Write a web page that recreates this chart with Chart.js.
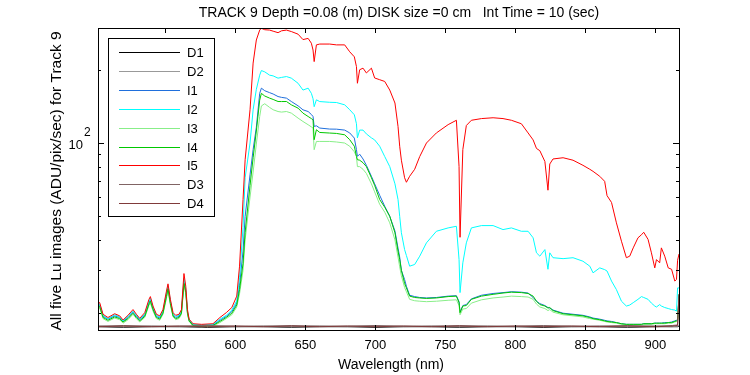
<!DOCTYPE html>
<html>
<head>
<meta charset="utf-8">
<script src="https://cdn.jsdelivr.net/npm/chart.js@4.4.1/dist/chart.umd.min.js"></script>
<style>
  html, body { margin: 0; padding: 0; background: #fff; }
  canvas { display: block; }
</style>
</head>
<body>
<canvas id="luChart" width="750" height="375"></canvas>
<script>
// wavelength grid (nm) shared by the five Lu image series
const wavelengths = [
  502, 503.1, 505.5, 509, 513.8, 517.4, 519.8, 523.3, 526.9, 529.3,
  531.7, 535.3, 538.3, 539.3, 541.2, 543.6, 546, 548.3, 550.8, 551.9,
  553.6, 555.5, 557.4, 559.8, 561.5, 563.3, 564.6, 565.8, 567, 569.8,
  576, 584, 589, 593.5,
  597.5, 601, 603, 605.5, 607, 610.5, 612.7, 615, 617.4, 618.6,
  621, 624.5, 627, 630.5, 633, 636.5, 640, 644.8, 648.3, 652,
  654.3, 655.5, 656.3, 657.9, 660.3, 667.4, 672.2, 678.1, 681.7, 685,
  686.5, 687.2, 688.8, 691.2, 693.6, 697.2, 699.5, 703.1, 706.7, 710.3,
  714, 716.2, 717.4, 718.6, 720.9, 722.2, 724.5, 728.1, 731.7, 736.5,
  743.6, 752, 757.9, 759.8, 760.5, 762.5, 765, 768.6, 775.8, 784.1,
  791.2, 797.2, 804.3, 809.1, 812.7, 815.1, 817.5, 821.1, 823.3, 824.6,
  826.9, 834.1, 841.2, 848.3, 853.2, 855.5, 860.3, 863.8, 865.5, 868.7,
  872.2, 875.8, 879.3, 881.7, 884.2, 887.6, 890.1, 891.7, 894.8, 897.2,
  899.6, 900.8, 903.1, 904.3, 906.7, 909.2, 911.6, 913.9, 915.1, 915.9,
  916.9
];

const i1 = [
  21.9, 21.6, 19.4, 18.9, 19.5, 19.2, 18.5, 19.2, 20.2, 19.4,
  18.8, 19.6, 22.1, 22.7, 20.9, 19.4, 19.1, 20.2, 23.8, 25.6,
  22.2, 19.7, 19.2, 19.4, 20.2, 27.0, 24.8, 20.2, 18.7, 17.9,
  17.8, 17.9, 18.7, 19.4,
  20.3, 22.0, 26, 36, 50, 74, 94, 116, 160, 168,
  164, 161, 159, 155.2, 154, 152.9, 148.1, 142.2, 136.9, 134.7,
  131, 128.5, 117, 117.7, 115.2, 114.1, 114, 113, 110, 104.8,
  94, 88.1, 90, 86, 81, 73, 68, 61, 55, 50,
  43.5, 37, 34, 30, 27.5, 25.8, 23.7, 23.4, 23.2, 23.1,
  23.2, 23.5, 23.6, 22.3, 20.2, 21.5, 21.7, 22.9, 23.7, 24.1,
  24.3, 24.5, 24.4, 24.2, 23.2, 22.4, 21.9, 21.5, 21.1, 21.0,
  20.6, 20.0, 19.8, 19.6, 19.3, 19.1, 18.9, 18.7, 18.6, 18.5,
  18.3, 18.1, 18.0, 18.0, 18.0, 18.0, 18.0, 18.1, 18.1, 18.1,
  18.2, 18.2, 18.2, 18.2, 18.3, 18.3, 18.4, 18.6, 18.7, 18.8,
  23.5
];

const i2 = [
  22.1, 21.8, 19.6, 19.0, 19.7, 19.3, 18.6, 19.4, 20.4, 19.6,
  18.9, 19.8, 22.4, 23.0, 21.1, 19.6, 19.3, 20.4, 24.2, 26.0,
  22.5, 19.9, 19.4, 19.6, 20.4, 27.8, 25.2, 20.4, 18.8, 18.0,
  17.9, 18.0, 18.9, 19.6,
  20.6, 22.5, 28, 45, 72, 100, 137, 166, 190, 198.5,
  196, 190, 188.7, 184.7, 186, 187.5, 184.7, 176, 165, 168,
  160, 152, 141, 150.5, 148, 147, 146.7, 143.5, 137, 130.6,
  120, 105, 113, 113, 109, 105, 103, 97, 88, 80,
  68, 58.6, 50, 42.8, 36.5, 34.5, 31.2, 31.7, 34.3, 38.9,
  43.4, 44.8, 45.5, 33.2, 24.3, 32.2, 38.9, 44.8, 45.8, 45.8,
  44.1, 44.8, 43.4, 43.4, 40.8, 35.4, 34.3, 36.5, 30.3, 35.4,
  33.8, 33.5, 33.8, 32.7, 31.2, 29.3, 30.7, 30.2, 29.8, 27.1,
  25.0, 22.4, 21.4, 21.6, 22.1, 22.8, 23.4, 23.2, 22.8, 22.0,
  21.4, 21.2, 21.7, 21.4, 21.1, 20.9, 20.7, 20.6, 20.4, 25.4,
  25.4
];

const i3 = [
  21.3, 21.0, 19.0, 18.5, 19.1, 18.8, 18.2, 18.8, 19.8, 19.0,
  18.4, 19.2, 21.5, 22.0, 20.4, 19.0, 18.7, 19.8, 23.0, 24.8,
  21.6, 19.3, 18.8, 19.0, 19.8, 26.0, 24.0, 19.8, 18.5, 17.7,
  17.6, 17.7, 18.3, 19.0,
  19.7, 21.2, 24, 30, 40, 60, 76, 99, 128.5, 142,
  145, 140, 137, 134.7, 134, 134.7, 132.7, 126.6, 122.6, 118.9,
  116.5, 115.2, 93.9, 101.5, 101.5, 101.5, 101, 100, 97, 92,
  88.1, 80, 80, 78, 75, 68, 63, 56, 52, 47,
  40, 34, 31, 28.5, 25.5, 24.5, 22.8, 22.5, 22.4, 22.3,
  22.4, 22.6, 22.7, 21.5, 19.7, 20.8, 20.9, 22.0, 22.7, 23.1,
  23.3, 23.5, 23.4, 23.3, 22.8, 21.8, 21.2, 20.9, 20.5, 20.7,
  20.2, 19.7, 19.5, 19.3, 19.0, 18.9, 18.7, 18.5, 18.4, 18.3,
  18.2, 18.0, 17.9, 17.9, 17.9, 17.9, 17.9, 18.0, 18.0, 18.0,
  18.1, 18.1, 18.1, 18.1, 18.1, 18.2, 18.2, 18.4, 18.5, 18.6,
  23.0
];

const i4 = [
  21.6, 21.3, 19.2, 18.7, 19.3, 19.0, 18.4, 19.0, 20.0, 19.2,
  18.6, 19.4, 21.8, 22.4, 20.7, 19.2, 18.9, 20.0, 23.4, 25.2,
  21.9, 19.5, 19.0, 19.2, 20.0, 26.5, 24.4, 20.0, 18.6, 17.8,
  17.7, 17.8, 18.5, 19.2,
  20.0, 21.6, 25, 32, 43, 67, 87, 112, 150, 160,
  156, 152.9, 151, 148.1, 148, 148.1, 143.5, 139.1, 132.7, 128.5,
  126, 124.6, 103.2, 113.4, 110.5, 109.9, 109.5, 108.1, 103.2, 97,
  88.1, 85.4, 85, 83, 80, 72, 67, 58.6, 54.5, 50,
  42.8, 36, 33.2, 30, 26.5, 25.4, 23.5, 23.2, 23.1, 23.0,
  23.1, 23.4, 23.5, 22.1, 20.1, 21.4, 21.5, 22.8, 23.5, 23.9,
  24.2, 24.4, 24.3, 24.1, 23.5, 22.4, 21.7, 21.4, 21.0, 21.1,
  20.5, 19.9, 19.7, 19.5, 19.2, 19.0, 18.8, 18.6, 18.5, 18.4,
  18.3, 18.1, 18.0, 18.0, 18.0, 18.0, 18.0, 18.1, 18.1, 18.1,
  18.2, 18.2, 18.2, 18.2, 18.2, 18.3, 18.3, 18.5, 18.6, 18.7,
  23.9
];

const i5 = [
  22.4, 22.1, 19.8, 19.2, 19.9, 19.5, 18.75, 19.6, 20.7, 19.8,
  19.05, 20.1, 22.8, 23.4, 21.4, 19.8, 19.5, 20.7, 24.65, 26.4,
  22.8, 20.1, 19.6, 19.8, 20.7, 29.1, 25.8, 20.7, 18.9, 18.1,
  18.0, 18.1, 19.2, 20.1,
  21.1, 23.5, 31.2, 58.6, 85.4, 137, 213, 265, 291, 296,
  292, 291, 288, 284, 289, 291, 287, 280, 266, 269,
  257, 241, 216, 253, 255, 255, 253, 253, 237, 226,
  206, 176, 200, 203, 194, 203, 185, 182, 179, 165,
  146, 117, 97, 85, 72, 69, 73, 78, 88, 100,
  110, 119, 124, 80, 41, 94, 118, 124, 126, 127,
  126, 124, 120, 110, 103, 95, 93, 84, 64, 82,
  86, 87, 85, 81, 78, 76.5, 73, 69.6, 60.8, 57,
  47, 39.5, 33.8, 34.3, 37.1, 40.8, 42, 43, 40.2, 35.4,
  30.7, 33.2, 32.2, 37.1, 34.3, 30.7, 30.3, 27.1, 27.5, 33,
  35
];

// dark frames sit on the floor of the plot
const darkWavelengths = [
  502, 520, 540, 560, 580, 600, 620, 640, 660, 680,
  700, 720, 740, 760, 780, 800, 820, 840, 860, 880,
  900, 912, 915.9, 916.9
];
const d1 = [17.6, 17.5, 17.6, 17.6, 17.5, 17.6, 17.6, 17.5, 17.6, 17.6, 17.5, 17.6, 17.6, 17.5, 17.6, 17.6, 17.5, 17.6, 17.6, 17.5, 17.6, 17.6, 17.6, 17.7];
const d2 = [17.7, 17.6, 17.7, 17.6, 17.7, 17.6, 17.7, 17.6, 17.7, 17.6, 17.7, 17.6, 17.7, 17.6, 17.7, 17.6, 17.7, 17.6, 17.7, 17.6, 17.7, 17.6, 17.7, 17.8];
const d3 = [17.7, 17.8, 17.7, 17.7, 17.8, 17.7, 17.7, 17.8, 17.7, 17.7, 17.8, 17.7, 17.7, 17.8, 17.7, 17.7, 17.8, 17.7, 17.7, 17.8, 17.7, 17.8, 17.9, 23.9];
const d4 = [17.6, 17.7, 17.6, 17.7, 17.6, 17.7, 17.6, 17.7, 17.6, 17.7, 17.6, 17.7, 17.6, 17.7, 17.6, 17.7, 17.6, 17.7, 17.6, 17.7, 17.6, 17.7, 17.8, 23.9];

const xTicks = [550, 600, 650, 700, 750, 800, 850, 900];
const yMinorTicks = [20, 30, 40, 50, 60, 70, 80, 90, 200];
const yMajorTicks = [100];

const FONT = '"Liberation Sans", Arial, Helvetica, sans-serif';

function pts(xs, ys) {
    return xs.map((x, i) => ({x: x, y: ys[i]}));
}

let series = [
    {label: 'D1', xs: darkWavelengths, ys: d1, color: '#000000'},
    {label: 'D2', xs: darkWavelengths, ys: d2, color: '#999999'},
    {label: 'I1', xs: wavelengths, ys: i1, color: '#1f6fdc'},
    {label: 'I2', xs: wavelengths, ys: i2, color: '#00ffff'},
    {label: 'I3', xs: wavelengths, ys: i3, color: '#88ee88'},
    {label: 'I4', xs: wavelengths, ys: i4, color: '#00c800'},
    {label: 'I5', xs: wavelengths, ys: i5, color: '#ff0000'},
    {label: 'D3', xs: darkWavelengths, ys: d3, color: '#806464'},
    {label: 'D4', xs: darkWavelengths, ys: d4, color: '#803a3a'}
];

let datasets = series.map((s, i) => ({
    label: s.label,
    data: pts(s.xs, s.ys),
    borderColor: s.color,
    borderWidth: 1,
    pointRadius: 0,
    fill: false,
    tension: 0,
    order: series.length - 1 - i   // later series on top, like the original
}));

// frame, inward ticks, tick labels, titles and the boxed legend
const matlabAxes = {
    id: 'matlabAxes',
    afterDraw(chart) {
        const ctx = chart.ctx;
        const a = chart.chartArea;
        const xs = chart.scales.x, ys = chart.scales.y;
        ctx.save();
        ctx.strokeStyle = '#000';
        ctx.fillStyle = '#000';
        ctx.lineWidth = 1;
        ctx.strokeRect(a.left + 0.5, a.top + 0.5, a.right - a.left, a.bottom - a.top);

        ctx.beginPath();
        xTicks.forEach(v => {
            const px = Math.round(xs.getPixelForValue(v)) + 0.5;
            ctx.moveTo(px, a.bottom); ctx.lineTo(px, a.bottom - 5);
            ctx.moveTo(px, a.top); ctx.lineTo(px, a.top + 5);
        });
        yMinorTicks.forEach(v => {
            const py = Math.round(ys.getPixelForValue(v)) + 0.5;
            ctx.moveTo(a.left, py); ctx.lineTo(a.left + 3, py);
            ctx.moveTo(a.right, py); ctx.lineTo(a.right - 3, py);
        });
        yMajorTicks.forEach(v => {
            const py = Math.round(ys.getPixelForValue(v)) + 0.5;
            ctx.moveTo(a.left, py); ctx.lineTo(a.left + 6, py);
            ctx.moveTo(a.right, py); ctx.lineTo(a.right - 6, py);
        });
        ctx.stroke();

        ctx.font = '13px ' + FONT;
        ctx.textAlign = 'center';
        ctx.textBaseline = 'middle';
        xTicks.forEach(v => {
            ctx.fillText(String(v), xs.getPixelForValue(v), a.bottom + 15);
        });

        // 10^2 label
        yMajorTicks.forEach(v => {
            const py = ys.getPixelForValue(v);
            const exp = Math.round(Math.log10(v));
            ctx.textAlign = 'right';
            ctx.font = '13px ' + FONT;
            ctx.fillText('10', a.left - 15, py + 2);
            ctx.textAlign = 'left';
            ctx.font = '12px ' + FONT;
            ctx.fillText(String(exp), a.left - 14, py - 10);
        });

        ctx.font = '14px ' + FONT;
        ctx.textAlign = 'center';
        ctx.fillText('Wavelength (nm)', 391, a.bottom + 35);
        ctx.fillText('TRACK 9 Depth =0.08 (m) DISK size =0 cm   Int Time = 10 (sec)', 399, 13);

        ctx.save();
        ctx.font = '15.5px ' + FONT;
        ctx.translate(57, 181);
        ctx.rotate(-Math.PI / 2);
        ctx.fillText('All five Lu images (ADU/pix/sec) for Track 9', 0, 0);
        ctx.restore();

        // legend box
        const lx = 108, ly = 38, lw = 106, lh = 178;
        ctx.fillStyle = '#fff';
        ctx.fillRect(lx, ly, lw, lh);
        ctx.strokeStyle = '#000';
        ctx.strokeRect(lx + 0.5, ly + 0.5, lw, lh);
        ctx.font = '13px ' + FONT;
        ctx.textAlign = 'left';
        series.forEach((s, i) => {
            const yy = Math.round(52 + i * 18.9) + 0.5;
            ctx.strokeStyle = s.color;
            ctx.beginPath();
            ctx.moveTo(119, yy);
            ctx.lineTo(180, yy);
            ctx.stroke();
            ctx.fillStyle = '#000';
            ctx.fillText(s.label, 187, yy + 1);
        });
        ctx.restore();
    }
};

let ctx = document.getElementById('luChart');
let luChart = new Chart(ctx, {
    type: 'line',
    data: {datasets: datasets},
    options: {
        responsive: false,
        animation: false,
        layout: {padding: {left: 98, right: 71, top: 28, bottom: 45}},
        scales: {
            x: {type: 'linear', min: 501.9, max: 916.9, display: false},
            y: {type: 'logarithmic', min: 17.06, max: 296.8, display: false}
        },
        plugins: {
            legend: {display: false},
            title: {display: false},
            tooltip: {enabled: false}
        }
    },
    plugins: [matlabAxes]
});
</script>
</body>
</html>
